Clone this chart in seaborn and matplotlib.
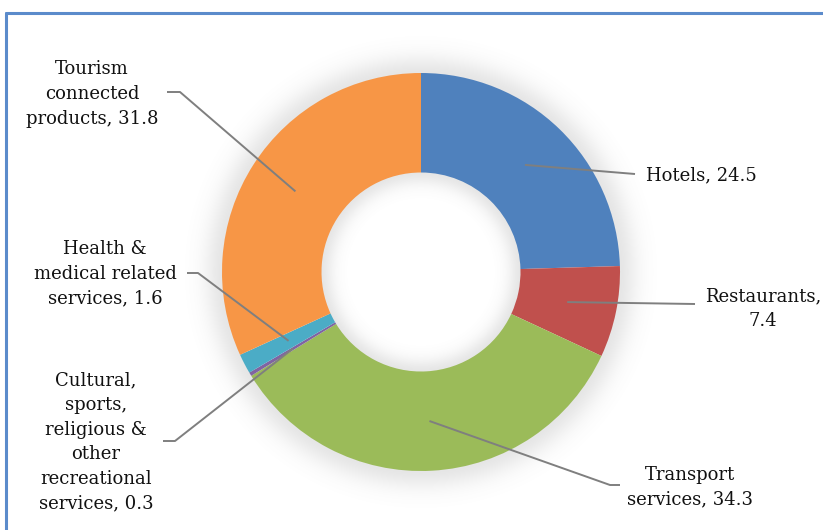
import numpy as np
import matplotlib
matplotlib.use("Agg")
import matplotlib.pyplot as plt
from matplotlib.lines import Line2D
import seaborn as sns

# Tourism expenditure shares by category (percent)
categories = [
    "Hotels",
    "Restaurants",
    "Transport services",
    "Cultural, sports, religious & other recreational services",
    "Health & medical related services",
    "Tourism connected products",
]
values = [24.5, 7.4, 34.3, 0.3, 1.6, 31.8]
label_texts = [
    "Hotels, 24.5",
    "Restaurants,\n7.4",
    "Transport\nservices, 34.3",
    "Cultural,\nsports,\nreligious &\nother\nrecreational\nservices, 0.3",
    "Health &\nmedical related\nservices, 1.6",
    "Tourism\nconnected\nproducts, 31.8",
]
colors = ["#4F81BD", "#C0504D", "#9BBB59", "#8064A2", "#4BACC6", "#F79646"]

sns.set_theme(style="white")
plt.rcParams["font.family"] = ["DejaVu Serif"]

W, H = 823, 530
CX, CY, R = 421, 272, 199  # donut centre and radius in pixels (y from top)

fig = plt.figure(figsize=(W / 100, H / 100), dpi=100)
ax = fig.add_axes([0, 0, 1, 1])
XL = (-CX / R, (W - CX) / R)
YL = (-(H - CY) / R, CY / R)


def px(x, y):
    """Pixel position (y from top) to data coordinates."""
    return (x - CX) / R, (CY - y) / R


# soft glow behind the ring
gx = np.linspace(XL[0], XL[1], 800)
gy = np.linspace(YL[0], YL[1], 520)
XX, YY = np.meshgrid(gx, gy)
rr = np.hypot(XX, YY)
glow = np.where(rr > 0.97, np.exp(-(np.clip(rr - 0.99, 0, None) / 0.1) ** 2), 0.0)
glow = glow + np.where(rr < 0.53, np.exp(-(np.clip(0.51 - rr, 0, None) / 0.07) ** 2), 0.0)
rgba = np.zeros(XX.shape + (4,))
rgba[..., :3] = 0.5
rgba[..., 3] = 0.2 * glow
ax.imshow(rgba, extent=(gx[0], gx[-1], gy[0], gy[-1]), origin="lower",
          zorder=0, interpolation="bilinear")

wedges, _ = ax.pie(values, colors=colors, startangle=90, counterclock=False,
                   radius=1.0, wedgeprops=dict(width=0.5, linewidth=0),
                   center=(0, 0), frame=False)
ax.set_xlim(*XL)
ax.set_ylim(*YL)
ax.set_aspect("equal")
ax.axis("off")

# label anchors: (text centre x, text centre y, elbow x, elbow y, end x, end y)
layout = [
    (701, 175, 635, 174, 635, 174),
    (763, 309, 695, 304, 695, 304),
    (690, 487, 610, 485, 620, 485),
    (96, 442, 175, 441, 163, 441),
    (105, 274, 198, 273, 187, 273),
    (92, 94, 180, 92, 167, 92),
]

total = sum(values)
cum = 0.0
for val, txt, (tx, ty, ex, ey, sx, sy) in zip(values, label_texts, layout):
    mid = 90 - (cum + val / 2) / total * 360
    cum += val
    a = np.deg2rad(mid)
    p0 = (0.75 * np.cos(a), 0.75 * np.sin(a))
    e = px(ex, ey)
    s = px(sx, sy)
    ax.plot([p0[0], e[0], s[0]], [p0[1], e[1], s[1]], color="#7F7F7F",
            lw=1.4, zorder=5, solid_capstyle="butt")
    ax.text(*px(tx, ty), txt, ha="center", va="center", fontsize=13,
            color="#111111", linespacing=1.47, zorder=6)

# chart frame
frame_col = "#5B8BCB"
fig.add_artist(Line2D([6 / W, 1], [1 - 13 / H, 1 - 13 / H], color=frame_col,
                      lw=2.2, transform=fig.transFigure))
fig.add_artist(Line2D([6 / W, 6 / W], [0, 1 - 13 / H], color=frame_col,
                      lw=2.2, transform=fig.transFigure))

fig.savefig("out.png", dpi=100, facecolor="white")
